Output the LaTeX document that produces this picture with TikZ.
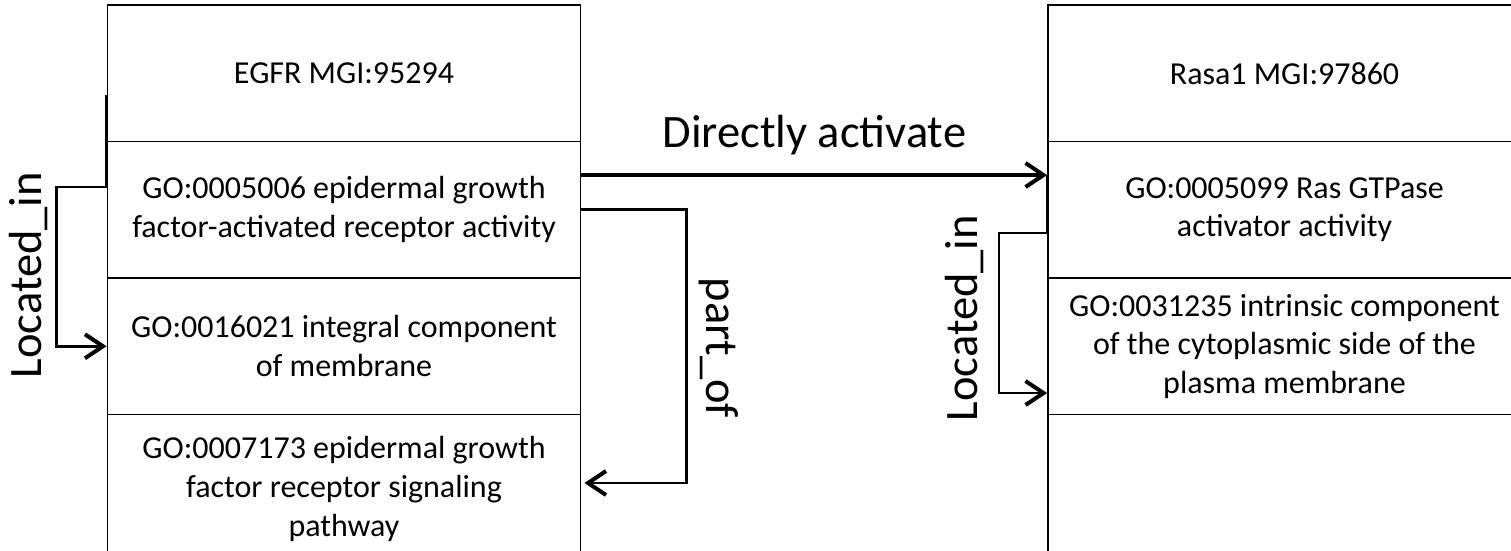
\documentclass[tikz,border=0pt]{standalone}
\usepackage{fontspec}
\setmainfont{Carlito}
\usetikzlibrary{arrows.meta,calc}

\begin{document}
\begin{tikzpicture}[x=1pt,y=-1pt,
  cell/.style={draw=black, line width=1.8pt, minimum width=473pt,
    minimum height=136.5pt, inner sep=0pt, align=center,
    font=\fontsize{32}{38.6}\selectfont},
  lastcell/.style={cell, minimum height=149pt},
  tip/.style={-{Straight Barb[length=18pt,width=24pt,line width=4pt]}},
  link/.style={tip, line width=2.6pt},
  strong/.style={tip, line width=4.5pt},
  rel/.style={inner sep=0pt, font=\fontsize{46.5}{56}\selectfont}
]
\useasboundingbox (0,0) rectangle (1511,550);
\clip (0,0) rectangle (1511,550);

% EGFR record
\node[cell] (egfrHead) at (344,73.25)  {EGFR MGI:95294};
\node[cell] (egfrMF)   at (344,209.75) {GO:0005006 epidermal growth\\factor-activated receptor activity};
\node[cell] (egfrCC)   at (344,346.25) {GO:0016021 integral component\\of membrane};
\node[lastcell] (egfrBP) at (344,489) {GO:0007173 epidermal growth\\factor receptor signaling\\pathway};

% Rasa1 record
\node[cell] (rasaHead) at (1284.5,73.25)  {Rasa1 MGI:97860};
\node[cell] (rasaMF)   at (1284.5,209.75) {GO:0005099 Ras GTPase\\activator activity};
\node[cell] (rasaCC)   at (1284.5,346.25) {GO:0031235 intrinsic component\\of the cytoplasmic side of the\\plasma membrane};
\node[lastcell] (rasaEmpty) at (1284.5,489) {};

% relations
\draw[strong] ([yshift=34.75pt]egfrMF.east) -- ([yshift=34.75pt]rasaMF.west)
  node[pos=0.5, anchor=base, yshift=28pt, rel] (act) {Directly activate};

\draw[link] ([yshift=-21.75pt]egfrHead.west) -- ([yshift=22.75pt]egfrMF.west)
  -- ++(-50,0) |- (egfrCC.west);
\node[rel, rotate=90] (liL) at (28,275) {Located\_in};

\draw[link] (egfrMF.east) -- ++(105,0) |- ([xshift=3pt,yshift=6pt]egfrBP.east);
\node[rel, rotate=-90] (po) at (719,348) {part\_of};

\draw[link] ([yshift=34.75pt]rasaMF.west) -- ([yshift=-23.25pt]rasaMF.west)
  -- ++(-48,0) |- ([yshift=-46.75pt]rasaCC.west);
\node[rel, rotate=90] (liR) at (964,318) {Located\_in};
\end{tikzpicture}
\end{document}
